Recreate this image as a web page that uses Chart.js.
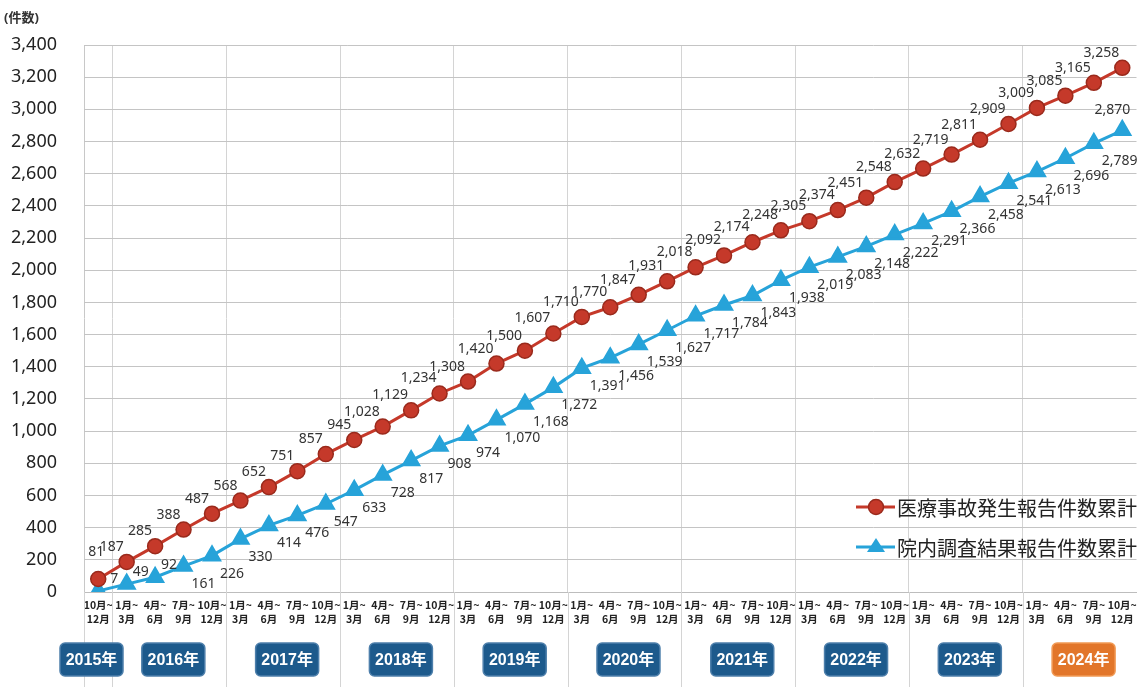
<!DOCTYPE html>
<html>
<head>
<meta charset="utf-8">
<script src="https://cdn.jsdelivr.net/npm/chart.js@4"></script>
<style>
  html, body { margin: 0; padding: 0; background: #fff; }
  #wrap { width: 1148px; height: 687px; position: relative; }
</style>
</head>
<body>
<div id="wrap"><canvas id="myChart"></canvas></div>
<script>
// quarterly cumulative counts, 2015 Q4 .. 2024 Q4
var years = ['2015年', '2016年', '2017年', '2018年', '2019年', '2020年', '2021年', '2022年', '2023年', '2024年'];
var quarterNames = [['1月~', '3月'], ['4月~', '6月'], ['7月~', '9月'], ['10月~', '12月']];

var accidentReports = [81, 187, 285, 388, 487, 568, 652, 751, 857, 945, 1028, 1129, 1234, 1308,
  1420, 1500, 1607, 1710, 1770, 1847, 1931, 2018, 2092, 2174, 2248, 2305, 2374, 2451, 2548,
  2632, 2719, 2811, 2909, 3009, 3085, 3165, 3258];
var investigationReports = [7, 49, 92, 161, 226, 330, 414, 476, 547, 633, 728, 817, 908, 974,
  1070, 1168, 1272, 1391, 1456, 1539, 1627, 1717, 1784, 1843, 1938, 2019, 2083, 2148, 2222,
  2291, 2366, 2458, 2541, 2613, 2696, 2789, 2870];

var seriesNames = ['医療事故発生報告件数累計', '院内調査結果報告件数累計'];

// one label for 2015 Q4, then four per year
var labels = [quarterNames[3]];
for (var y = 1; y < years.length; y++) {
  quarterNames.forEach(function(q) { labels.push(q); });
}

var RED = '#c5392a';
var BLUE = '#27a3d9';
var FONT = '"Noto Sans", "Noto Sans CJK JP", sans-serif';

function fmt(v) { return v.toLocaleString('en-US'); }

// first / last category of year i
function yearStart(i) { return i === 0 ? 0 : 1 + (i - 1) * 4; }
function yearEnd(i) { return i === 0 ? 0 : yearStart(i) + 3; }

function roundRect(ctx, x, y, w, h, r) {
  ctx.beginPath();
  ctx.moveTo(x + r, y);
  ctx.arcTo(x + w, y, x + w, y + h, r);
  ctx.arcTo(x + w, y + h, x, y + h, r);
  ctx.arcTo(x, y + h, x, y, r);
  ctx.arcTo(x, y, x + w, y, r);
  ctx.closePath();
}

var overlay = {
  id: 'overlay',
  afterDatasetsDraw: function(chart) {
    var ctx = chart.ctx;
    ctx.save();
    ctx.font = '14px ' + FONT;
    ctx.fillStyle = '#333';
    ctx.textBaseline = 'alphabetic';

    chart.getDatasetMeta(0).data.forEach(function(pt, j) {
      var txt = fmt(accidentReports[j]);
      if (j === 0) {
        ctx.textAlign = 'center';
        ctx.fillText(txt, pt.x - 2, pt.y - 23);
      } else {
        ctx.textAlign = 'right';
        ctx.fillText(txt, pt.x - 3, pt.y - 11);
      }
    });

    var last = investigationReports.length - 1;
    chart.getDatasetMeta(1).data.forEach(function(pt, j) {
      var txt = fmt(investigationReports[j]);
      ctx.textAlign = 'left';
      if (j === 0) {
        ctx.fillText(txt, pt.x + 12, pt.y - 8);
      } else if (j <= 2) {
        ctx.fillText(txt, pt.x + 6, pt.y - 8);
      } else if (j === last) {
        ctx.textAlign = 'right';
        ctx.fillText(txt, pt.x + 8, pt.y - 16);
      } else {
        ctx.fillText(txt, pt.x + 8, pt.y + 22);
      }
    });
    ctx.restore();
  },
  afterDraw: function(chart) {
    var ctx = chart.ctx;
    var area = chart.chartArea;
    var xs = chart.scales.x;
    var H = chart.height;
    ctx.save();

    // unit title
    ctx.fillStyle = '#333';
    ctx.font = 'bold 13px ' + FONT;
    ctx.textAlign = 'left';
    ctx.textBaseline = 'middle';
    ctx.fillText('(件数)', 4, 18);

    // year dividers running below the axis
    ctx.strokeStyle = '#d4d4d4';
    ctx.lineWidth = 1;
    var half = (xs.getPixelForValue(1) - xs.getPixelForValue(0)) / 2;
    for (var i = 1; i < years.length; i++) {
      var bx = Math.round(xs.getPixelForValue(yearStart(i)) - half) + 0.5;
      ctx.beginPath();
      ctx.moveTo(bx, area.bottom);
      ctx.lineTo(bx, H);
      ctx.stroke();
    }
    ctx.beginPath();
    ctx.moveTo(Math.round(area.left) + 0.5, area.bottom);
    ctx.lineTo(Math.round(area.left) + 0.5, H);
    ctx.stroke();

    // year badges
    years.forEach(function(label, i) {
      var w = 63, h = 33, top = 643;
      var cx = (xs.getPixelForValue(yearStart(i)) + xs.getPixelForValue(yearEnd(i))) / 2 + 4;
      if (i === 0) cx = 60 + w / 2;
      var orange = i === years.length - 1;
      roundRect(ctx, cx - w / 2, top, w, h, 5);
      ctx.fillStyle = orange ? '#e2762a' : '#1d5a8c';
      ctx.fill();
      ctx.lineWidth = 1.5;
      ctx.strokeStyle = orange ? '#f19a55' : '#4d7fab';
      ctx.stroke();
      ctx.fillStyle = '#fff';
      ctx.font = 'bold 16px "Liberation Sans", "Noto Sans CJK JP", sans-serif';
      ctx.textAlign = 'center';
      ctx.textBaseline = 'middle';
      ctx.fillText(label, cx, top + h / 2 + 1);
    });

    // legend inside plot
    var items = [
      { name: seriesNames[0], color: RED, y: 507, style: 'circle' },
      { name: seriesNames[1], color: BLUE, y: 547, style: 'triangle' }
    ];
    items.forEach(function(it) {
      ctx.strokeStyle = it.color;
      ctx.lineWidth = 3;
      ctx.beginPath();
      ctx.moveTo(856, it.y);
      ctx.lineTo(895, it.y);
      ctx.stroke();
      ctx.fillStyle = it.color;
      ctx.beginPath();
      if (it.style === 'circle') {
        ctx.arc(876, it.y, 7.5, 0, Math.PI * 2);
        ctx.fill();
        ctx.strokeStyle = '#9a2a1c';
        ctx.lineWidth = 1.5;
        ctx.stroke();
      } else {
        ctx.moveTo(876, it.y - 9);
        ctx.lineTo(885, it.y + 5);
        ctx.lineTo(867, it.y + 5);
        ctx.closePath();
        ctx.fill();
      }
      ctx.fillStyle = '#222';
      ctx.font = '20px "Noto Sans CJK JP", sans-serif';
      ctx.textAlign = 'left';
      ctx.textBaseline = 'middle';
      ctx.fillText(it.name, 897, it.y + 1);
    });

    ctx.restore();
  }
};

// vertical grid only at year boundaries and the plot edges
function xGridColor(c) {
  var i = c.index;
  if (typeof i !== 'number') return 'rgba(0,0,0,0)';
  if (i === 0 || i >= labels.length) return '#c8c8c8';
  var lab = labels[i];
  return (lab && lab[0] === '1月~') ? '#d4d4d4' : 'rgba(0,0,0,0)';
}

var ctx = document.getElementById('myChart').getContext('2d');
var chart = new Chart(ctx, {
  type: 'line',
  data: {
    labels: labels,
    datasets: [{
      label: seriesNames[0],
      data: accidentReports,
      borderColor: RED,
      backgroundColor: RED,
      borderWidth: 3,
      pointStyle: 'circle',
      pointRadius: 7.5,
      pointBackgroundColor: RED,
      pointBorderColor: '#9a2a1c',
      pointBorderWidth: 1.5,
      tension: 0
    }, {
      label: seriesNames[1],
      data: investigationReports,
      borderColor: BLUE,
      backgroundColor: BLUE,
      borderWidth: 3,
      pointStyle: 'triangle',
      pointRadius: 8.5,
      pointBackgroundColor: BLUE,
      pointBorderColor: BLUE,
      tension: 0
    }]
  },
  options: {
    responsive: true,
    maintainAspectRatio: false,
    animation: false,
    layout: { padding: { top: 45, right: 3, bottom: 55, left: 0 } },
    plugins: {
      legend: { display: false },
      tooltip: { enabled: false }
    },
    scales: {
      x: {
        offset: true,
        border: { display: true, color: '#bdbdbd' },
        grid: {
          offset: true,
          drawTicks: false,
          color: xGridColor
        },
        ticks: {
          autoSkip: false,
          maxRotation: 0,
          minRotation: 0,
          padding: 6,
          color: '#222',
          font: { size: 10.5, weight: 'bold', family: '"Noto Sans CJK JP", sans-serif', lineHeight: 1.35 }
        },
        afterFit: function(s) { s.height = 40; }
      },
      y: {
        min: 0,
        max: 3400,
        border: { display: false },
        grid: { color: '#c4c4c4', drawTicks: false },
        ticks: {
          stepSize: 200,
          padding: 27,
          color: '#222',
          font: { size: 18, family: FONT },
          callback: function(v) { return fmt(v); }
        },
        afterFit: function(s) { s.width = 84; }
      }
    }
  },
  plugins: [overlay]
});
</script>
</body>
</html>
